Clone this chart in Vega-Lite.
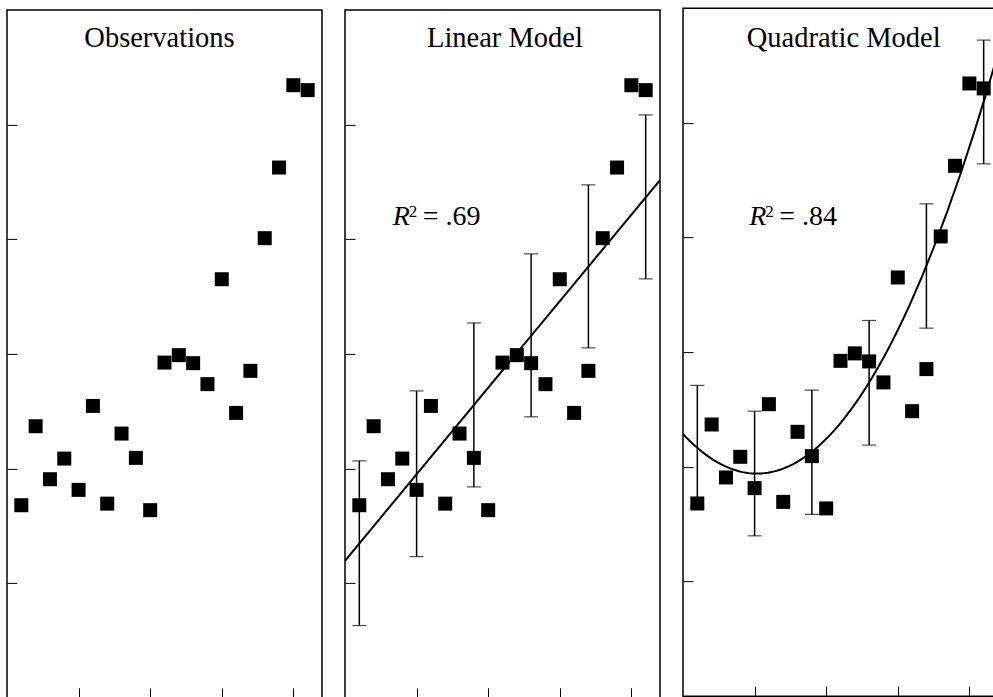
{
  "$schema": "https://vega.github.io/schema/vega-lite/v6.json",
  "padding": {"left": 5, "top": 7, "right": 0, "bottom": 0},
  "autosize": {"type": "pad"},
  "background": "white",
  "spacing": 20,
  "center": true,
  "config": {
    "view": {"stroke": "black", "strokeWidth": 1.5},
    "font": "Liberation Serif",
    "axis": {"labels": false, "domain": false, "grid": false, "title": null, "tickSize": -10, "tickColor": "black", "tickWidth": 1}
  },
  "datasets": {
    "obs": [
      {"x": 1, "y": 16.80}, {"x": 2, "y": 23.69}, {"x": 3, "y": 19.07}, {"x": 4, "y": 20.87},
      {"x": 5, "y": 18.14}, {"x": 6, "y": 25.46}, {"x": 7, "y": 16.94}, {"x": 8, "y": 23.05},
      {"x": 9, "y": 20.93}, {"x": 10, "y": 16.37}, {"x": 11, "y": 29.24}, {"x": 12, "y": 29.89},
      {"x": 13, "y": 29.19}, {"x": 14, "y": 27.36}, {"x": 15, "y": 36.51}, {"x": 16, "y": 24.85},
      {"x": 17, "y": 28.52}, {"x": 18, "y": 40.09}, {"x": 19, "y": 46.25}, {"x": 20, "y": 53.43},
      {"x": 21, "y": 53.00}
    ],
    "linbars": [
      {"x": 1, "lo": 6.31, "hi": 20.67}, {"x": 5, "lo": 12.32, "hi": 26.77},
      {"x": 9, "lo": 18.40, "hi": 32.70}, {"x": 13, "lo": 24.51, "hi": 38.72},
      {"x": 17, "lo": 30.52, "hi": 44.74}, {"x": 21, "lo": 36.54, "hi": 50.84}
    ],
    "quadbars": [
      {"x": 1, "lo": 16.5, "hi": 27.1}, {"x": 5, "lo": 13.98, "hi": 24.85},
      {"x": 9, "lo": 15.85, "hi": 26.69}, {"x": 13, "lo": 21.89, "hi": 32.76},
      {"x": 17, "lo": 32.09, "hi": 42.93}, {"x": 21, "lo": 46.42, "hi": 57.21}
    ],
    "labels": [
      {"panel": "obs", "x": 10.65, "y": 56.8, "title": "Observations"},
      {"panel": "lin", "x": 11.17, "y": 56.8, "title": "Linear Model", "r2": "= .69", "rx": 3.33, "ry": 41.22},
      {"panel": "quad", "x": 11.22, "y": 56.62, "title": "Quadratic Model", "r2": "= .84", "rx": 4.63, "ry": 41.05}
    ]
  },
  "hconcat": [
    {
      "width": 315, "height": 688,
      "encoding": {
        "x": {"field": "x", "type": "quantitative", "scale": {"domain": [0, 22], "nice": false, "zero": false}, "axis": {"values": [5, 10, 15, 20]}},
        "y": {"field": "y", "type": "quantitative", "scale": {"domain": [0, 60], "nice": false, "zero": false}, "axis": {"values": [10, 20, 30, 40, 50]}}
      },
      "layer": [
        {"data": {"name": "obs"}, "mark": {"type": "point", "shape": "square", "filled": true, "color": "black", "size": 196, "opacity": 1}},
        {"data": {"name": "labels"}, "transform": [{"filter": "datum.panel == 'obs'"}], "mark": {"type": "text", "fontSize": 28.5, "align": "center", "baseline": "alphabetic", "color": "black"}, "encoding": {"text": {"field": "title"}}}
      ]
    },
    {
      "width": 315, "height": 688,
      "encoding": {
        "x": {"field": "x", "type": "quantitative", "scale": {"domain": [0, 22], "nice": false, "zero": false}, "axis": {"values": [5, 10, 15, 20]}},
        "y": {"field": "y", "type": "quantitative", "scale": {"domain": [0, 60], "nice": false, "zero": false}, "axis": {"values": [10, 20, 30, 40, 50]}}
      },
      "layer": [
        {"data": {"name": "linbars"}, "mark": {"type": "rule", "color": "black", "strokeWidth": 1.5}, "encoding": {"y": {"field": "lo", "type": "quantitative"}, "y2": {"field": "hi"}}},
        {"data": {"name": "linbars"}, "mark": {"type": "tick", "color": "black", "thickness": 1.2, "size": 14, "orient": "horizontal"}, "encoding": {"y": {"field": "lo", "type": "quantitative"}}},
        {"data": {"name": "linbars"}, "mark": {"type": "tick", "color": "black", "thickness": 1.2, "size": 14, "orient": "horizontal"}, "encoding": {"y": {"field": "hi", "type": "quantitative"}}},
        {"data": {"name": "obs"}, "transform": [{"regression": "y", "on": "x", "extent": [0, 22]}], "mark": {"type": "line", "color": "black", "strokeWidth": 2, "clip": true}},
        {"data": {"name": "obs"}, "mark": {"type": "point", "shape": "square", "filled": true, "color": "black", "size": 196, "opacity": 1}},
        {"data": {"name": "labels"}, "transform": [{"filter": "datum.panel == 'lin'"}], "mark": {"type": "text", "fontSize": 28.5, "align": "center", "baseline": "alphabetic", "color": "black"}, "encoding": {"text": {"field": "title"}}},
        {"data": {"name": "labels"}, "transform": [{"filter": "datum.panel == 'lin'"}], "mark": {"type": "text", "fontSize": 28, "fontStyle": "italic", "align": "left", "baseline": "alphabetic", "color": "black", "text": "R"}, "encoding": {"x": {"field": "rx", "type": "quantitative"}, "y": {"field": "ry", "type": "quantitative"}}},
        {"data": {"name": "labels"}, "transform": [{"filter": "datum.panel == 'lin'"}], "mark": {"type": "text", "fontSize": 17, "align": "left", "baseline": "alphabetic", "color": "black", "text": "2", "dx": 16, "dy": -8}, "encoding": {"x": {"field": "rx", "type": "quantitative"}, "y": {"field": "ry", "type": "quantitative"}}},
        {"data": {"name": "labels"}, "transform": [{"filter": "datum.panel == 'lin'"}], "mark": {"type": "text", "fontSize": 28, "align": "left", "baseline": "alphabetic", "color": "black", "dx": 30}, "encoding": {"x": {"field": "rx", "type": "quantitative"}, "y": {"field": "ry", "type": "quantitative"}, "text": {"field": "r2"}}}
      ]
    },
    {
      "width": 315, "height": 688,
      "encoding": {
        "x": {"field": "x", "type": "quantitative", "scale": {"domain": [0, 22], "nice": false, "zero": false}, "axis": {"values": [5, 10, 15, 20], "minExtent": 4}},
        "y": {"field": "y", "type": "quantitative", "scale": {"domain": [0, 60], "nice": false, "zero": false}, "axis": {"values": [10, 20, 30, 40, 50]}}
      },
      "layer": [
        {"data": {"name": "quadbars"}, "mark": {"type": "rule", "color": "black", "strokeWidth": 1.5}, "encoding": {"y": {"field": "lo", "type": "quantitative"}, "y2": {"field": "hi"}}},
        {"data": {"name": "quadbars"}, "mark": {"type": "tick", "color": "black", "thickness": 1.2, "size": 14, "orient": "horizontal"}, "encoding": {"y": {"field": "lo", "type": "quantitative"}}},
        {"data": {"name": "quadbars"}, "mark": {"type": "tick", "color": "black", "thickness": 1.2, "size": 14, "orient": "horizontal"}, "encoding": {"y": {"field": "hi", "type": "quantitative"}}},
        {"data": {"name": "obs"}, "transform": [{"regression": "y", "on": "x", "method": "poly", "order": 2, "extent": [0, 22]}], "mark": {"type": "line", "color": "black", "strokeWidth": 2, "clip": true}},
        {"data": {"name": "obs"}, "mark": {"type": "point", "shape": "square", "filled": true, "color": "black", "size": 196, "opacity": 1}},
        {"data": {"name": "labels"}, "transform": [{"filter": "datum.panel == 'quad'"}], "mark": {"type": "text", "fontSize": 28.5, "align": "center", "baseline": "alphabetic", "color": "black"}, "encoding": {"text": {"field": "title"}}},
        {"data": {"name": "labels"}, "transform": [{"filter": "datum.panel == 'quad'"}], "mark": {"type": "text", "fontSize": 28, "fontStyle": "italic", "align": "left", "baseline": "alphabetic", "color": "black", "text": "R"}, "encoding": {"x": {"field": "rx", "type": "quantitative"}, "y": {"field": "ry", "type": "quantitative"}}},
        {"data": {"name": "labels"}, "transform": [{"filter": "datum.panel == 'quad'"}], "mark": {"type": "text", "fontSize": 17, "align": "left", "baseline": "alphabetic", "color": "black", "text": "2", "dx": 16, "dy": -8}, "encoding": {"x": {"field": "rx", "type": "quantitative"}, "y": {"field": "ry", "type": "quantitative"}}},
        {"data": {"name": "labels"}, "transform": [{"filter": "datum.panel == 'quad'"}], "mark": {"type": "text", "fontSize": 28, "align": "left", "baseline": "alphabetic", "color": "black", "dx": 30}, "encoding": {"x": {"field": "rx", "type": "quantitative"}, "y": {"field": "ry", "type": "quantitative"}, "text": {"field": "r2"}}}
      ]
    }
  ]
}
